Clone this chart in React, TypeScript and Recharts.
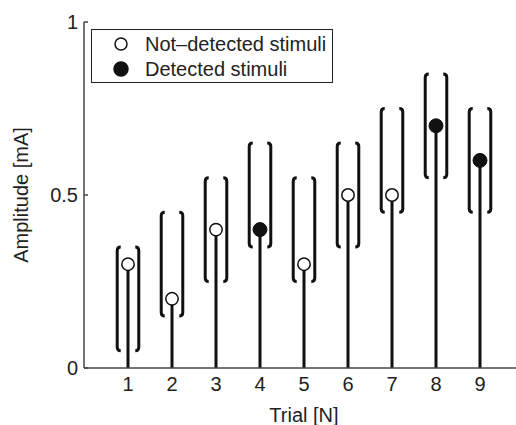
import React from 'react';
import { ComposedChart, XAxis, YAxis, Line, Scatter, ReferenceLine, Legend } from 'recharts';

const trials = [1, 2, 3, 4, 5, 6, 7, 8, 9];
const amplitudes = [0.3, 0.2, 0.4, 0.4, 0.3, 0.5, 0.5, 0.7, 0.6];
const detectedFlags = [false, false, false, true, false, false, false, true, true];
const rangeLow = [0.05, 0.15, 0.25, 0.35, 0.25, 0.35, 0.45, 0.55, 0.45];
const rangeHigh = [0.35, 0.45, 0.55, 0.65, 0.55, 0.65, 0.75, 0.85, 0.75];
const xTicks = [1, 2, 3, 4, 5, 6, 7, 8, 9];
const yTicks = [0, 0.5, 1];
const seriesNames = ['Not\u2013detected stimuli', 'Detected stimuli'];

const FONT = '"Liberation Sans", Arial, Helvetica, sans-serif';
const INK = '#111';
const TEXT = '#222';
const BRACKET_OFFSET = 0.245;

const notDetectedData = trials
  .map((t, i) => ({ x: t, y: amplitudes[i] }))
  .filter((_, i) => !detectedFlags[i]);
const detectedData = trials
  .map((t, i) => ({ x: t, y: amplitudes[i] }))
  .filter((_, i) => detectedFlags[i]);

const makeBracket = (dir: number) => (props: any) => {
  const { x1, y1, y2 } = props;
  const top = Math.min(y1, y2);
  const bot = Math.max(y1, y2);
  const s = 3.5;
  const d = `M${x1 + dir * s},${top} Q${x1},${top} ${x1},${top + s} L${x1},${bot - s} Q${x1},${bot} ${x1 + dir * s},${bot}`;
  return <path d={d} stroke={INK} strokeWidth={3} fill="none" strokeLinecap="butt" />;
};
const leftBracket = makeBracket(1);
const rightBracket = makeBracket(-1);

const OpenDot = (p: any) => (
  <circle cx={p.cx} cy={p.cy} r={6.2} fill="#fff" stroke={INK} strokeWidth={1.5} />
);
const FilledDot = (p: any) => (
  <circle cx={p.cx} cy={p.cy} r={7} fill={INK} stroke={INK} strokeWidth={1} />
);

const markerFill = ['#fff', INK];

const LegendBox = (props: any) => {
  const payload = (props.payload || []).filter((e: any) => seriesNames.includes(e.value));
  return (
    <div
      style={{
        position: 'relative',
        width: 242,
        height: 54,
        boxSizing: 'border-box',
        border: '1.5px solid #222',
        background: '#fff',
        fontFamily: FONT,
        fontSize: 20,
        color: TEXT,
      }}
    >
      {payload.map((e: any, i: number) => {
        const idx = seriesNames.indexOf(e.value);
        return (
          <div key={e.value} style={{ position: 'absolute', left: 0, top: 2 + idx * 25, height: 25, width: '100%' }}>
            <svg width={20} height={20} style={{ position: 'absolute', left: 19, top: 2 }}>
              <circle cx={10} cy={10} r={idx === 0 ? 6 : 7} fill={markerFill[idx]} stroke={INK} strokeWidth={1.5} />
            </svg>
            <span style={{ position: 'absolute', left: 53, top: 0, lineHeight: '24px', whiteSpace: 'nowrap' }}>{e.value}</span>
          </div>
        );
      })}
    </div>
  );
};

const YLabel = (props: any) => {
  const vb = props.viewBox || { x: 0, y: 22, width: 84, height: 346 };
  const cx = vb.x + 27.5;
  const cy = vb.y + vb.height / 2;
  return (
    <text x={cx} y={cy} transform={`rotate(-90 ${cx} ${cy})`} textAnchor="middle" fill={TEXT} fontSize={20} fontFamily={FONT}>
      Amplitude [mA]
    </text>
  );
};

export default function App() {
  return (
    <div style={{ position: 'absolute', left: 0, top: 0, width: 516, height: 425, overflow: 'hidden', background: '#fff' }}>
      <ComposedChart width={524} height={425} margin={{ top: 22, right: 0, bottom: 0, left: 0 }}>
        <XAxis
          dataKey="x"
          type="number"
          domain={[0, 10]}
          ticks={xTicks}
          allowDataOverflow
          height={57}
          tickLine={false}
          tickSize={6}
          tickMargin={3}
          axisLine={{ stroke: '#444', strokeWidth: 1.5 }}
          tick={{ fill: TEXT, fontSize: 20, fontFamily: FONT }}
          label={{ value: 'Trial [N]', position: 'insideBottom', offset: 3, fill: TEXT, fontSize: 20, fontFamily: FONT }}
        />
        <YAxis
          dataKey="y"
          type="number"
          domain={[0, 1]}
          ticks={yTicks}
          allowDataOverflow
          width={84}
          tickSize={-4}
          tickMargin={10}
          tickLine={{ stroke: '#444', strokeWidth: 1.5 }}
          axisLine={{ stroke: '#444', strokeWidth: 1.5 }}
          tick={{ fill: TEXT, fontSize: 20, fontFamily: FONT }}
          label={{ content: YLabel }}
        />
        {trials.map((t, i) => (
          <ReferenceLine
            key={`bl${t}`}
            segment={[{ x: t - BRACKET_OFFSET, y: rangeLow[i] }, { x: t - BRACKET_OFFSET, y: rangeHigh[i] }]}
            shape={leftBracket}
            ifOverflow="visible"
          />
        ))}
        {trials.map((t, i) => (
          <ReferenceLine
            key={`br${t}`}
            segment={[{ x: t + BRACKET_OFFSET, y: rangeLow[i] }, { x: t + BRACKET_OFFSET, y: rangeHigh[i] }]}
            shape={rightBracket}
            ifOverflow="visible"
          />
        ))}
        {trials.map((t, i) => (
          <Line
            key={`stem${t}`}
            data={[{ x: t, y: 0 }, { x: t, y: amplitudes[i] }]}
            dataKey="y"
            stroke={INK}
            strokeWidth={3}
            dot={false}
            activeDot={false}
            legendType="none"
            isAnimationActive={false}
          />
        ))}
        <Scatter name={seriesNames[0]} data={notDetectedData} dataKey="y" fill="#fff" shape={OpenDot} isAnimationActive={false} />
        <Scatter name={seriesNames[1]} data={detectedData} dataKey="y" fill={INK} shape={FilledDot} isAnimationActive={false} />
        <Legend
          layout="vertical"
          align="center"
          verticalAlign="middle"
          content={LegendBox}
          wrapperStyle={{ left: 91, top: 29, width: 242, height: 54 }}
        />
      </ComposedChart>
    </div>
  );
}
